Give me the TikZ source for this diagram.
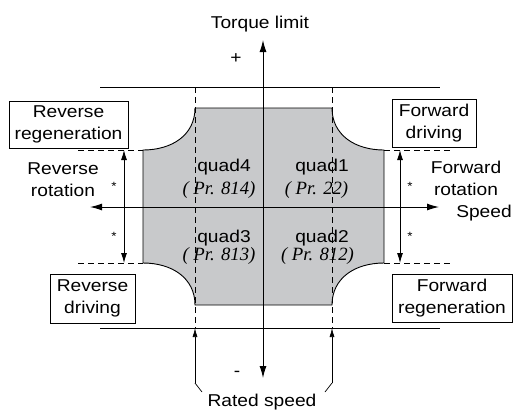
\documentclass[tikz,border=0pt]{standalone}
\usepackage{fontspec}
\setmainfont{Liberation Sans}[FakeStretch=1.12]
\newfontfamily\prfont{Liberation Serif}
\usetikzlibrary{arrows.meta}
\definecolor{quadgray}{RGB}{200,201,203}
\begin{document}
\begin{tikzpicture}[x=1bp,y=-1bp,
  lbl/.style={font=\fontsize{17.2}{22}\selectfont, inner sep=0pt, align=center},
  boxlbl/.style={lbl, draw, line width=0.8bp},
  prlbl/.style={font=\prfont\itshape\fontsize{18.8}{22}\selectfont, inner sep=0pt, anchor=base},
  qlbl/.style={font=\fontsize{17.2}{22}\selectfont, inner sep=0pt, anchor=base},
  starlbl/.style={font=\fontsize{12}{14}\selectfont, inner sep=0pt},
  axis/.style={line width=1bp, {Latex[length=12bp,width=7bp]}-{Latex[length=12bp,width=7bp]}},
  dim/.style={line width=0.9bp, {Latex[length=10bp,width=6bp]}-{Latex[length=10bp,width=6bp]}},
  onetip/.style={line width=0.7bp, -{Latex[length=9bp,width=5bp]}},
  limit/.style={line width=0.9bp},
  dsh/.style={line width=1bp, dash pattern=on 6bp off 4bp}]
\useasboundingbox (0,0) rectangle (515,410);

% gray operating region
\fill[quadgray] (195,108) -- (332,108) .. controls (332,135) and (355,150) .. (384,150)
  -- (384,263) .. controls (355,263) and (332,278) .. (332,305)
  -- (195,305) .. controls (195,278) and (172,263) .. (143,263)
  -- (143,150) .. controls (172,150) and (195,135) .. (195,108) -- cycle;
\draw[line width=0.9bp] (195,108) -- (332,108) .. controls (332,135) and (355,150) .. (384,150)
  -- (384,263) .. controls (355,263) and (332,278) .. (332,305)
  -- (195,305) .. controls (195,278) and (172,263) .. (143,263)
  -- (143,150) .. controls (172,150) and (195,135) .. (195,108);

% coordinates
\coordinate (tl) at (100,87);  \coordinate (tr) at (440,87);
\coordinate (bl) at (100,328); \coordinate (br) at (440,328);
\coordinate (dlt) at (195,87); \coordinate (dlb) at (195,328);
\coordinate (drt) at (332,87); \coordinate (drb) at (332,328);
\coordinate (xl) at (90,207);  \coordinate (xr) at (439,207);
\coordinate (yt) at (263,40);  \coordinate (yb) at (263,378);

% torque limit lines
\draw[limit] (tl) -- (tr);
\draw[limit] (bl) -- (br);
% rated speed dashed verticals
\draw[dsh] (dlt) -- (dlb);
\draw[dsh] (drt) -- (drb);
% dashed horizontals
\draw[dsh] (78,150) -- (143,150);
\draw[dsh] (78,263) -- (143,263);
\draw[dsh] (384,150) -- (450,150);
\draw[dsh] (384,263) -- (450,263);

% axes
\draw[axis] (xl) -- (xr);
\draw[axis] (yt) -- (yb);

% rotation arrows
\draw[dim] (124,150) -- (124,263);
\draw[dim] (400,150) -- (400,263);
\node[starlbl] (s1) at (114,186) {*};
\node[starlbl] (s2) at (114,236) {*};
\node[starlbl] (s3) at (410,186) {*};
\node[starlbl] (s4) at (410,236) {*};

% texts
\node[qlbl] (torque) at (260,28) {Torque limit};
\node[qlbl] (plus) at (236,63) {+};
\node[qlbl] (minus) at (237,376) {-};
\node[qlbl] (speed) at (484,217) {Speed};
\node[lbl] (revrot) at (63,180) {Reverse\\rotation};
\node[lbl] (fwdrot) at (466,178) {Forward\\rotation};

\node[boxlbl, minimum width=119bp, minimum height=47bp] (rr) at (68.5,124.5) {Reverse\\regeneration};
\node[boxlbl, minimum width=84bp, minimum height=48bp] (fd) at (434,123) {Forward\\driving};
\node[boxlbl, minimum width=85bp, minimum height=49bp] (rd) at (92.5,298.5) {Reverse\\driving};
\node[boxlbl, minimum width=120bp, minimum height=48bp] (fr) at (452,298) {Forward\\regeneration};

\node[qlbl] (q4) at (224,171) {quad4};
\node[prlbl] (p4) at (219,194) {( Pr. 814)};
\node[qlbl] (q1) at (322,171) {quad1};
\node[prlbl] (p1) at (316.5,194) {( Pr. 22)};
\node[qlbl] (q3) at (224,242) {quad3};
\node[prlbl] (p3) at (219,260) {( Pr. 813)};
\node[qlbl] (q2) at (322,242) {quad2};
\node[prlbl] (p2) at (317.5,260) {( Pr. 812)};

\node[qlbl] (rated) at (262,406) {Rated speed};
\coordinate (rl) at (195,383);
\coordinate (rr2) at (332,383);
\draw[line width=0.7bp] (202,392) -- (rl);
\draw[onetip] (rl) -- (dlb);
\draw[line width=0.7bp] (325,392) -- (rr2);
\draw[onetip] (rr2) -- (drb);
\end{tikzpicture}
\end{document}
